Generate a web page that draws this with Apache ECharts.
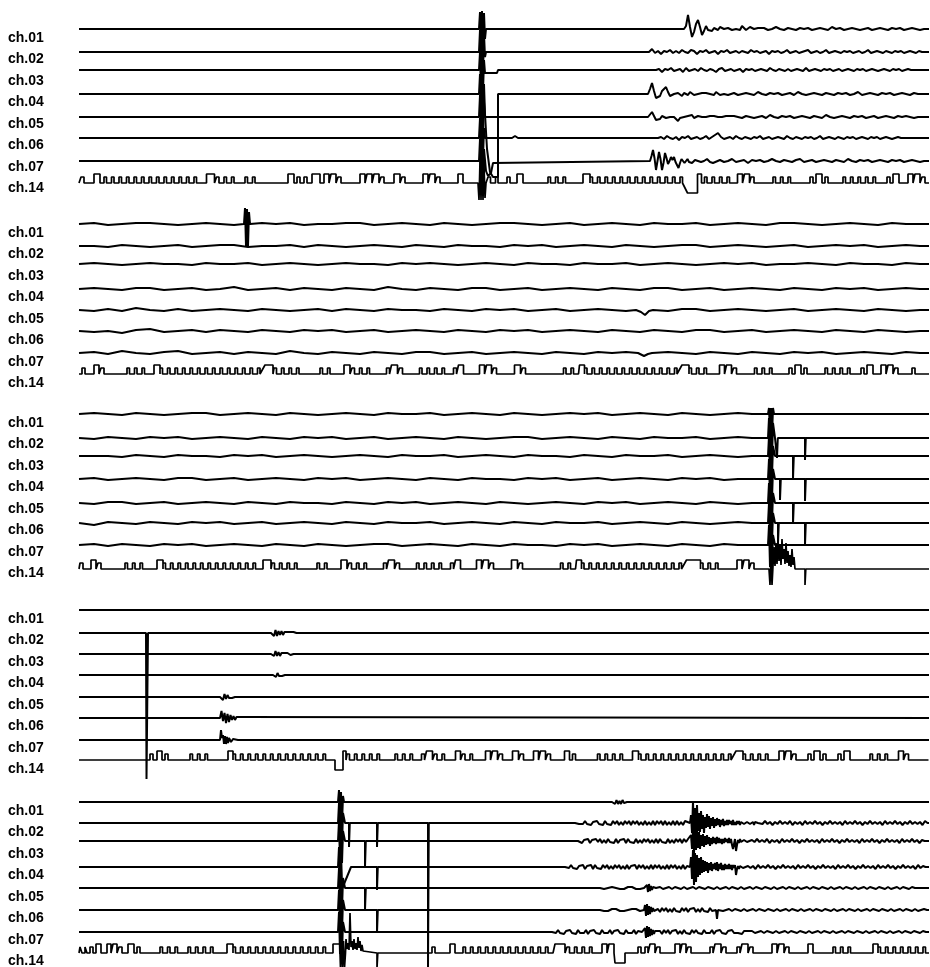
<!DOCTYPE html>
<html><head><meta charset="utf-8">
<script src="https://cdn.jsdelivr.net/npm/echarts/dist/echarts.min.js"></script>
<style>html,body{margin:0;padding:0;background:#fff}#c{width:930px;height:967px}</style>
</head><body><div id="c"></div>
<script>
// ---------------- DATA ----------------
const CHANNELS = ['ch.01','ch.02','ch.03','ch.04','ch.05','ch.06','ch.07','ch.14'];
const T_START = 79, T_END = 929;           // time (sample) range of every record
const PANEL_TOPS = [29, 224, 414, 610, 802];
const TRACE_OFFSETS = [
  [0,23,41,65,88,109,132,154],
  [0,22,40,65,86,107,129,150],
  [0,24,42,65,89,109,131,155],
  [0,23,44,65,87,108,130,150],
  [0,21,39,65,86,108,130,151]
];

// ch.14 time-code runs: _ baseline, i short pulse, I tall pulse, v negative notch, cN = N comb teeth
const TC1 = "_2 i3 _10 I6 _4 c13 _5 I8 _2 c3 _6 c2 _28 I6 _3 i3 _4 i3 _5 I8 _4 I5 _2 I5 _2 i3 _19 I5 _2 I5 _2 I5 _2 i3 _10 I6 _2 i3 _18 I5 _2 I5 _2 i3 _18 I5 _25 c2 _4 i3 _7 I6 _25 c3 _12.5 I7 c13 v10 I4 _3 c4 _3 I5 _2 I5 _1.5 i3 _19 c3 _14.5 i3 _3 I6 _3 i3 _15 c5 _6.5 i3 _3 I6 _9 I5 _2 I5 _2 i3 _4";
const TC2 = "_3 i3 _9 I5 _2 i3 _23 c3 _4.5 I6 c14 I8 _1 c4 _16 c2 _9 I6 _2 c3 _12 i3 _2 I6 _2 i3 _17 c4 _4 i3 _2 I5 _16 I5 _2 I5 _2 i3 _18 I6 _2 i3 _38 c2 _1 I5 c13 I7 c3 _8 I5 _2 I5 _2 i3 _18 c3 _12 i3 _3 I6 _3 i3 _18 c4 _6 i3 _3 I6 _8 I5 _2 I5 _2 i3 _14 i3 _10";
const TC3 = "_1 i3 _8 I5 _2 i3 _24 c3 _9.5 I6 c13 _2.5 I8 _1 c4 _15 c2 _9 I6 _2 c3 _12 i3 _2 I6 _2 i3 _17 c4 _4 i3 _2 I5 _16 I5 _2 I5 _2 i3 _18 I6 _2 i3 _38 c2 _1 I5 c14 I14 c3 _14 I5 _2 I5 _2 i3";
const TC4 = "_71 i3 _4 I5 _3 i3 _22 c3 _15.5 I5 c13 _4.5 v8 I3 _1 c5 _10.5 c3 _4 i3 _2 I6 _2 c2 _6 I5 _2 c2 _8 I5 _2 I5 _2 i3 _10 I6 _2 i3 _10 I5 _2 I5 _2 i3 _14 I5 _3 i3 _22 c4 _5 I6 c13 I7 c4 _6 I5 _2 I5 _2 i3 _12 i3 _3 I6 _3 i3 _12 i3 _3 I6 _20 c3 _6 I5 _2 i3 _20";
const TC5 = "_1 i2 _3 i2 _3 i3 _3 I5 _6 I4 _2 I4 _2 i3 _6 I6 _3 i3 _20 c3 _5.5 c4 _9 I6 c13 _2.5 I7 _92 i3 _15 I5 _8 c12 _2 I10 _2 c4 _5 I5 _2 I5 _1 v10 _13 i3 _4 i3 _2 I5 _2 i3 _15 I5 _2 I4 _2 i3 _19 i3 _2 I6 _2 i3 _11 i3 _2 I6 _2 i3 _19 I5 _2 I5 _2 i3 _19 I5 _20 c3 _17.5 I5 c7";

// Background ripple of the quiet records (panels 2 and 3): [t0, dt, amp...]
const NOISE2 = [
  [80,14, 0,1,-1,0,1,1,0,-1,0,1,0,-1,-1,1,0,1,-1,0,0,1,1,-1,0,1,0,-1,1,0,-1,0,1,1,0,-1,0,1,-1,0,1,0,-1,1,0,0,1,-1,0,1,0,-1,1,1,0,-1,0,1,0,-1,1,0,0],
  [80,14, 1,0,-1,1,0,-1,0,1,-1,0,1,1,-1,0,0,1,-1,1,0,-1,0,1,0,-1,1,0,-1,1,0,0,-1,1,0,1,-1,0,1,0,-1,1,0,-1,0,1,1,-1,0,1,0,-1,0,1,-1,0,1,0,1,-1,0,1,0],
  [80,14, 0,1,0,-1,0,1,0,0,-1,1,0,0,1,-1,0,1,0,-1,0,1,0,0,-1,1,0,1,0,-1,0,1,0,-1,1,0,0,-1,1,0,0,1,-1,0,1,0,-1,0,1,0,1,-1,0,0,1,0,-1,1,0,0,-1,1,0],
  [80,14, -1,1,0,-1,1,1,-1,0,1,-1,0,2,-1,0,1,-1,1,0,-1,1,0,-1,2,0,-1,1,0,-1,1,1,-1,0,1,-1,0,1,0,-1,1,0,-1,1,1,-1,0,1,-1,0,1,0,-1,1,0,-1,1,0,1,-1,0,1,0],
  [80,14, 0,-1,1,-1,2,0,-1,1,-1,0,1,0,-1,1,0,-1,0,1,-1,1,0,-1,1,0,0,-1,1,0,-1,1,0,1,-1,0,1,-1,0,1,0,-1,1,0,-1,1,1,-1,0,1,0,-1,0,1,-1,0,1,0,-1,1,0,-1,0],
  [80,14, 1,-1,0,-2,1,2,-1,0,1,-1,1,0,-1,1,0,-1,1,0,1,-1,0,1,-1,0,1,0,-1,1,0,-1,1,0,1,-1,0,1,0,-1,1,0,-1,1,0,-1,1,1,-1,0,1,-1,0,1,0,-1,1,0,-1,1,0,-1,0],
  [80,14, 0,1,-1,2,0,-1,1,2,-1,0,1,-1,1,0,-1,2,0,-1,1,0,-1,1,0,-1,1,1,-1,0,1,-1,0,1,0,-1,1,0,-1,1,0,1,-1,0,1,0,-1,1,0,-1,1,0,-1,1,0,1,-1,0,1,0,-1,1,0],
  null
];
const NOISE3 = [
  [80,14, 0,1,0,-1,1,0,-1,0,1,1,-1,0,1,0,-1,1,0,-1,0,1,0,-1,1,0,0,1,-1,0,1,0,-1,1,0,-1,0,1,0,1,-1,0,1,0,-1,1,0,-1,0,1,0],
  [80,14, 0,-1,1,0,-1,1,0,1,-1,0,1,0,-1,1,0,-1,1,0,1,-1,0,1,-1,0,1,0,-1,1,0,-1,0,1,1,-1,0,1,0,-1,1,0,-1,1,0,0,1,-1,0,1,0],
  [80,14, 1,0,0,-1,1,0,-1,1,0,0,-1,1,0,1,-1,0,1,0,-1,0,1,0,-1,1,0,0,1,-1,0,1,0,-1,1,0,0,-1,1,0,-1,1,0,0,1,-1,0,1,0,-1,0],
  [80,14, 0,1,-1,0,1,0,-1,1,1,-1,0,1,-1,0,1,0,-1,1,0,1,-1,0,1,0,-1,1,0,-1,1,0,0,-1,1,0,1,-1,0,1,-1,0,1,0,-1,1,0,1,-1,0,0],
  [80,14, 0,-1,1,1,-1,0,1,-1,0,1,0,-1,1,0,-1,1,0,0,-1,1,0,-1,1,0,1,-1,0,1,0,-1,1,0,-1,0,1,0,-1,1,0,1,-1,0,1,0,-1,1,0,-1,0],
  [80,14, 0,-2,1,0,-1,1,0,-1,1,0,1,-1,0,1,-1,0,1,0,-1,1,0,-1,1,0,0,1,-1,0,1,0,-1,1,0,-1,1,0,0,1,-1,0,1,0,-1,1,0,-1,0,1,0],
  [80,14, 0,1,-1,1,0,-1,1,0,1,-1,0,1,0,-1,1,0,-1,1,0,-1,0,1,1,-1,0,1,0,-1,1,0,-1,1,0,0,-1,1,0,1,-1,0,1,0,-1,1,0,-1,1,0,0],
  null
];
const NOISE_NONE = [null,null,null,null,null,null,null,null];

// Events per channel: either [[t,amp],...] or [t0, dt, amp0, amp1, ...]; amp up = positive
const EV1 = [
  [ [[479,0],[480,17],[481,-20],[482,18],[483,-22],[484,16],[485,-10],[486,0]],
    [684,2, 0,3,14,2,-8,-3,5,9,2,-6,-2,3,-1,1,-2,1,0,-1,2,3,0,-1,1,0,-1,1,0,1,-1,3,1,-1,0,2,3,0,-1,1,0],
    [764,4, 1,-1,0,2,0,-1,1,0,-1,1,0,1,-1,0,1,0,-1,2,0,1,-1,0,1,0,-1,0,1,-1,0,1,0,-1,1,0,1,-1,0,1,0,-1,0,0] ],
  [ [[479,0],[480,22],[481,-21],[482,20],[483,-22],[484,18],[485,-5],[486,0]],
    [649,3, 0,3,-1,1,-2,1,0,2,-1,1,-1,2,0,-1,2,1,-2,1,0,2,-1,0,1,-2,1,0,2,-1,0,1,-1,1,0,-1,2,0,1,-1,0,1,-2,1,0,1,-1,0,2,-1,0,1,-1,0,1,2,-1,0,1,-1,0,2,-1,0,1,0,-1,1,0,1,-1,0,1,-1,0,2,-1,0,1,0,-1,1,0,-1,1,0,1,-1,0,1,0,-1,1,0,0] ],
  [ [[479,0],[480,18],[481,-24],[482,18],[483,-22],[484,10],[485,-3],[497,-3],[498,0]],
    [656,3, 0,1,-2,1,0,2,-1,0,1,-2,2,-1,0,1,-1,2,0,-1,1,0,-2,1,2,-1,0,1,-1,0,1,-2,1,0,1,-1,0,1,0,-1,2,0,-1,1,0,-1,1,-1,0,1,0,-1,2,-1,0,1,0,-1,1,0,1,-1,0,1,-1,0,1,0,-1,1,0,1,-1,0,1,0,-1,0,1,0,-1,1,0,1,-1,0,1,0,0,0] ],
  [ [[479,0],[480,20],[481,-22],[482,18],[483,-20],[484,10],[485,-20],[487,-55],[490,-78],[493,-83],[498,-83],[498,0],[499,0]],
    [648,2, 0,5,11,3,-4,-6,-2,3,5,7,2,-2,-3,0,2,1,-1,-2,1,0,-1,2,0,-1,1,0,-2,1,0,1,-1,0,1,-1,2,0,-1,1,0,1,-1,0],
    [734,4, 1,-1,0,1,0,-1,2,0,-1,1,0,1,-1,0,1,-1,2,0,-1,0,1,0,-1,1,0,-1,1,0,1,-1,0,2,-1,0,1,0,-1,1,0,1,-1,0,1,0,-1,1,0,0,0] ],
  [ [[479,0],[480,22],[481,-22],[482,20],[483,-20],[484,15],[485,0]],
    [648,2, 0,2,5,1,-3,-5,-2,1,0,-1,1,0,1,0,-1,-4,-1,1,0,-1,1,0,2,-1,0,1,-1,0,1,0,-2,1,0,1,-1,0,1,0,-1,1,0],
    [734,4, 1,0,-1,1,0,-1,0,1,-1,2,0,-1,1,0,1,-1,0,1,0,-1,1,0,-1,2,0,-1,0,1,0,-1,1,0,1,-1,0,1,-1,0,1,0,-1,1,0,1,0,-1,0,0,0] ],
  [ [[479,0],[480,20],[481,-22],[482,22],[483,-20],[484,10],[485,0]],
    [[512,0],[515,2],[518,0]],
    [658,3, 0,1,-1,2,0,-1,1,-2,1,0,2,-1,0,1,-1,0,2,-1,1,3,5,1,-1,0,1,-1,2,0,-1,1,0,-1,1,0,2,-1,0,1,-1,0,1,0,-1,2,0,-1,1,0,-1,1,0,1,-1,0,2,-1,0,1,0,-1,1,0,-1,1,0,1,-1,0,1,0,-1,1,0,1,-1,0,1,0,-1,0,1,0,0,0] ],
  [ [[479,0],[480,22],[481,-22],[482,20],[483,-22],[484,12],[486,-10],[488,-15],[491,-12],[493,-2],[495,0]],
    [650,1.5, 0,5,11,3,-9,0,9,2,-9,-2,8,3,-3,0,4,1,4,-1,-3,-7,-2,2,1,-2,0,2,-1,1,-2,0,1,-1,0,2,-1,1,0,-1,2,0,-1,1,-2,0],
    [720,4, 1,-1,0,2,-1,0,1,-2,1,0,1,-1,0,2,0,-1,1,0,-1,1,2,-1,0,1,-1,0,1,0,-1,1,0,-1,2,0,-1,1,0,1,-1,0,1,0,-1,1,0,1,-1,0,1,0,-1,0,0] ],
  [ [[478,0],[479,-17],[480,22],[481,-17],[482,20],[483,-17],[484,18],[485,-15],[486,0]] ]
];
const EV2 = [
  [ [[244,0],[245,16],[246,-22],[247,15],[248,-22],[249,12],[250,0]] ],
  [], [], [],
  [ [[636,0],[641,-2],[645,-5],[649,-1],[653,0]] ],
  [],
  [ [[638,0],[644,-3],[648,-1],[652,0]] ],
  []
];
const EV3 = [
  [ [[768,0],[769,6],[770,-20],[771,6],[772,-22],[773,6],[774,0]] ],
  [ [[768,0],[769,20],[770,-22],[771,22],[772,-20],[773,15],[775,0],[777,0],[777,-20],[777.8,-20],[777.8,0],[805,0],[805,-22],[805.8,-22],[805.8,0]] ],
  [ [[768,0],[769,20],[770,-22],[771,22],[772,-20],[773,10],[775,0],[793,0],[793,-23],[793.8,-23],[793.8,0]] ],
  [ [[768,0],[769,20],[770,-22],[771,22],[772,-20],[773,10],[775,0],[780,0],[780,-21],[780.8,-21],[780.8,0],[805,0],[805,-22],[805.8,-22],[805.8,0]] ],
  [ [[768,0],[769,20],[770,-22],[771,22],[772,-20],[773,10],[775,0],[793,0],[793,-21],[793.8,-21],[793.8,0]] ],
  [ [[768,0],[769,20],[770,-22],[771,22],[772,-20],[773,10],[775,0],[778,0],[778,-20],[778.8,-20],[778.8,0],[805,0],[805,-22],[805.8,-22],[805.8,0]] ],
  [ [[768,0],[769,20],[770,-22],[771,22],[772,-20],[773,10],[775,0]] ],
  [ [[769,0],[770,-16],[771,14],[772,-16],[773,-14],[774,22],[775,3],[776,26],[777,5],[778,30],[779,8],[780,24],[781,4],[782,30],[783,10],[784,20],[785,5],[786,26],[787,6],[788,18],[789,3],[790,14],[791,2],[792,20],[793,4],[794,12],[795,0],[805,0],[805,-16],[805.8,-16],[805.8,0]] ]
];
const EV4 = [
  [],
  [ [[146,0],[146.5,-146],[147.5,-146],[148,0]],
    [271,1.5, 0,2,-3,3,-3,2,-2,2,-2,1,-1,1,-1,1,0,1,-1,0,1,0] ],
  [ [271,1.5, 0,2,-2,3,-2,2,-2,1,-1,1,-1,1,0,-1,1,0] ],
  [ [273,1.5, 0,1,-2,2,-1,1,-1,1,0,-1,0] ],
  [ [220,1.5, 0,2,-3,3,-2,2,-1,1,-1,1,0,-1,0] ],
  [ [220,1.5, 0,7,-3,5,-5,4,-4,3,-2,2,-2,1,-1,1,0,1,0] ],
  [ [[220,0],[221,10],[222,2],[223,5],[224,-4],[225,4],[226,-4],[227,3],[228,-3],[229,2],[231,-2],[233,1],[235,-1],[238,0]] ],
  []
];
const EV5 = [
  [ [[338,0],[339,12],[340,-20],[341,10],[342,-22],[343,6],[344,0]],
    [612,1.5, 0,2,-2,2,-2,1,-2,2,-1,1,0] ],
  [ [[338,0],[339,20],[340,-22],[341,20],[342,-22],[343,10],[345,0],[349,0],[349,-24],[349.8,-24],[349.8,0],[377,0],[377,-24],[377.8,-24],[377.8,0],[428,0],[428,-144],[428.8,-144],[428.8,0]],
    [575,2, 0,1,-1,1,-1,2,-1,1,-2,1,-1,2,-1,1,-2,2,-1,1,-2,2,-1,2,-2,1,-2,2,-1,2,-2,2,-1,2,-2,1,-2,2,-2,1,-2,2,-2,2,-1,2,-2,2,-2,1,-2,2,-2,2,-2,1,-2,2],
    [690,1, 0,8,-10,22,-14,15,-12,18,-8,10,-9,12,-6,8,-10,6,-5,9,-4,7,-6,5,-3,6,-5,4,-3,5,-2,4,-4,3,-2,4,-3,2,-2,3,-2,3,-1,2,-2,3,-2,1,-2,2,-1,2,-2,1,-1,2,-1,1,-2,1,-1,2,-1,1,-1,1,-2,1,-1,1,0],
    [760,2.5, 1,-1,2,-1,1,-2,1,-1,2,-1,1,-1,2,-2,1,-1,1,-2,2,-1,1,-1,2,-1,1,-2,1,-1,2,-1,1,-1,1,-2,2,-1,1,-1,2,-1,1,-2,1,-1,2,-1,1,-1,1,-2,2,-1,1,-1,2,-1,1,-2,1,-1,2,-1,1,-1,1,-2,2,0] ],
  [ [[338,0],[339,20],[340,-22],[341,20],[342,-22],[343,10],[345,0],[365,0],[365,-26],[365.8,-26],[365.8,0]],
    [578,2, 0,1,-2,1,-1,2,-2,1,-1,2,-1,2,-2,1,-2,2,-1,1,-2,2,-2,1,-1,2,-2,2,-1,1,-2,2,-2,1,-2,2,-1,2,-2,1,-2,2,-2,2,-1,1,-2,2,-2,1,-2,2,-1,2,-2,2,-1,2],
    [690,1, 0,6,-8,13,-12,10,-9,12,-7,9,-8,6,-5,7,-6,5,-4,6,-3,4,-5,3,-3,4,-2,3,-3,4,-2,3,-2,2,-3,2,-2,3,-1,2,-2,3,-2,2,-4,-8,-3,2,-10,-4,1,-2,2,-1,1,-2,1,-1,2,-1,0],
    [752,2.5, 1,-1,2,-1,1,-1,2,-2,1,-1,1,-2,2,-1,1,-1,2,-1,1,-2,1,-1,2,-1,1,-1,1,-2,2,-1,1,-1,2,-1,1,-2,1,-1,2,-1,1,-1,1,-2,2,-1,1,-1,2,-1,1,-2,1,-1,2,-1,1,-1,1,-2,2,-1,1,-1,2,-1,1,-2,1,0] ],
  [ [[338,0],[339,20],[340,-22],[341,20],[342,-22],[343,-20],[351,0],[377,0],[377,-23],[377.8,-23],[377.8,0]],
    [565,2, 0,1,-1,2,-1,1,-2,1,-1,2,-2,1,-1,2,-2,2,-1,1,-2,2,-1,2,-2,1,-2,2,-1,2,-2,1,-2,2,-2,1,-1,2,-2,2,-1,2,-2,1,-2,2,-2,2,-1,2,-2,1,-2,2,-2,2,-1,2,-2,1,-2,2,-2,1],
    [690,1, 0,10,-12,17,-18,14,-15,12,-10,9,-8,10,-6,7,-5,6,-4,5,-6,4,-3,5,-4,3,-2,4,-3,5,-4,3,-2,4,-3,2,-3,3,-2,2,-2,3,-2,2,-3,2,-1,2,-8,-2,1,-2,1,-1,2,-1,0],
    [748,2.5, 1,-1,1,-2,2,-1,1,-1,2,-1,1,-2,1,-1,2,-1,1,-1,1,-2,2,-1,1,-1,2,-1,1,-2,1,-1,2,-1,1,-1,1,-2,2,-1,1,-1,2,-1,1,-2,1,-1,2,-1,1,-1,1,-2,2,-1,1,-1,2,-1,1,-2,1,-1,2,-1,1,-1,1,-2,2,-1,1,0] ],
  [ [[338,0],[339,20],[340,-22],[341,20],[342,-22],[343,10],[345,0],[365,0],[365,-22],[365.8,-22],[365.8,0]],
    [600,2, 0,1,-1,1,0,-1,1,-1,0,1,-1,1,-1,0,1,-1,1,0,-1,1,-1,1,0],
    [646,1, 0,3,-4,4,-3,2,-2,1,-1,1,0],
    [660,3, 1,-1,0,1,-1,1,0,-1,1,-1,0,1,-1,1,0,-1,1,0,-1,1,-1,0,1,-1,1,0,-1,1,-1,0,1,-1,1,0,-1,1,0,-1,1,-1,0,1,-1,1,0,-1,1,-1,0,1,-1,1,0,-1,1,0,-1,1,-1,0,1,-1,1,0,-1,1,-1,0,1,-1,1,0,-1,1,0,-1,1,-1,0,1,-1,1,0,-1,1,0,0] ],
  [ [[338,0],[339,20],[340,-22],[341,20],[342,-22],[343,10],[345,0],[377,0],[377,-23],[377.8,-23],[377.8,0]],
    [600,2, 0,1,-1,1,-1,0,1,-1,1,0,-1,1,-1,1,0,-1,1,-1,1,0,-1,0],
    [644,1, 0,5,-6,6,-5,4,-4,3,-2,2,-1,1,0],
    [658,2, 1,-2,2,-1,2,-2,1,-2,2,-1,1,-2,2,-1,2,-2,1,-1,2,-2,1,-2,2,-1,1,-2,2,-1,1],
    [[716,0],[717,-9],[718,0]],
    [720,3, 1,-1,0,1,-1,1,0,-1,1,-1,0,1,-1,1,0,-1,1,0,-1,1,-1,0,1,-1,1,0,-1,1,-1,0,1,-1,1,0,-1,1,0,-1,1,-1,0,1,-1,1,0,-1,1,-1,0,1,-1,1,0,-1,1,0,-1,1,-1,0,1,-1,1,0,-1,1,-1,0,1,0] ],
  [ [[338,0],[339,20],[340,-22],[341,20],[342,-22],[343,10],[345,0]],
    [552,2, 0,1,-1,2,-1,1,-2,1,-1,2,-1,1,-2,2,-1,1,-1,2,-2,1,-1,2,-1,1,-2,2,-1,1,-1,2,-2,1,-1,2,-1,1,-2,2,-1,1,-1,2,-2,1,-1,0],
    [644,1, 0,4,-6,6,-5,5,-4,3,-3,2,-2,1,-1,0],
    [660,2, 1,-2,2,-1,2,-2,1,-1,2,-2,1,-2,2,-1,1,-2,2,-1,2,-1,1,-2,2,-1,1,-1,2,-2,1,-1,2,-1,1,-2,1,-1,2,-1,1,-1,1,-2,1,-1,1],
    [752,3, 1,-1,0,1,-1,1,0,-1,1,-1,0,1,-1,1,0,-1,1,0,-1,1,-1,0,1,-1,1,0,-1,1,-1,0,1,-1,1,0,-1,1,0,-1,1,-1,0,1,-1,1,0,-1,1,-1,0,1,-1,1,0,-1,1,0,-1,1,0] ],
  [ [[340,0],[340.5,-15],[341.5,15],[342.5,-15],[343.5,12],[344.5,-15],[345.5,0],[346,14],[347,4],[348,10],[349,3],[350,40],[351,6],[352,12],[353,3],[354,14],[355,4],[356,10],[357,3],[358,16],[359,5],[360,12],[361,2],[362,8],[363,2],[365,0],[377,0],[377,-15],[377.8,-15],[377.8,0]] ]
];
const TIMECODES = [TC1, TC2, TC3, TC4, TC5];
const NOISES = [NOISE_NONE, NOISE2, NOISE3, NOISE_NONE, NOISE_NONE];
const EVENTS = [EV1, EV2, EV3, EV4, EV5];

// ---------------- BUILD ----------------
const LEVEL = {'_':0, 'i':6, 'I':9, 'v':-10};
function decodeTimecode(str){
  let t = T_START; const pts = [];
  str.trim().split(/\s+/).forEach(tok => {
    const k = tok[0], n = parseFloat(tok.slice(1));
    if (k === 'c') {
      for (let j = 0; j < n; j++) { pts.push([t,0],[t,6],[t+2.5,6],[t+2.5,0]); t += 7.5; }
    } else { const a = LEVEL[k]; pts.push([t,a],[t+n,a]); t += n; }
  });
  pts.push([t,0],[T_END,0]);
  return pts;
}
function expandEvent(ev){
  if (Array.isArray(ev[0])) return ev;
  const t0 = ev[0], dt = ev[1];
  return ev.slice(2).map((a,i) => [t0 + i*dt, a]);
}
function buildTrace(base, events){
  const evs = events.map(expandEvent);
  const wins = evs.map(p => [p[0][0], p[p.length-1][0]]);
  const kept = base.filter(p => !wins.some(w => p[0] > w[0] && p[0] < w[1]));
  const all = kept.concat(...evs).map((p,i) => [p[0], p[1], i]);
  all.sort((a,b) => (a[0]-b[0]) || (a[2]-b[2]));
  return all.filter(p => p[0] >= T_START && p[0] <= T_END).map(p => [p[0], p[1]]);
}

const grids = [], xAxes = [], yAxes = [], series = [];
PANEL_TOPS.forEach((top, pi) => {
  grids.push({left: 79, width: 850, top: top - 2, height: 172, outerBoundsMode: 'none', containLabel: false});
  xAxes.push({type: 'value', gridIndex: pi, min: T_START, max: T_END, show: false});
  yAxes.push({type: 'category', gridIndex: pi, data: CHANNELS, inverse: true,
    axisLine: {show: false}, axisTick: {show: false}, splitLine: {show: false},
    axisLabel: {align: 'left', margin: 71, color: '#000', fontWeight: 'bold', fontSize: 14,
      fontFamily: '"Liberation Sans", Arial, sans-serif'}});
  yAxes.push({type: 'value', gridIndex: pi, min: -2, max: 170, inverse: true, show: false});
  CHANNELS.forEach((ch, ci) => {
    let base;
    if (ci === 7) base = decodeTimecode(TIMECODES[pi]);
    else {
      const nz = NOISES[pi][ci];
      base = [[T_START,0]].concat(nz ? expandEvent(nz) : [], [[T_END,0]]);
    }
    const pts = buildTrace(base, EVENTS[pi][ci]);
    const off = TRACE_OFFSETS[pi][ci];
    series.push({
      type: 'line', name: 'P' + (pi+1) + ' ' + ch, xAxisIndex: pi, yAxisIndex: pi*2 + 1,
      data: pts.map(p => [p[0], off - p[1]]),
      symbol: 'none', showSymbol: false, clip: false, silent: true, animation: false,
      lineStyle: {color: '#000', width: ci === 7 ? 1.7 : 2}
    });
  });
});

const chart = echarts.init(document.getElementById('c'), null, {renderer: 'canvas'});
chart.setOption({
  backgroundColor: '#fff', animation: false,
  grid: grids, xAxis: xAxes, yAxis: yAxes, series: series,
  tooltip: {show: false}, legend: {show: false}
});
</script>
</body></html>
